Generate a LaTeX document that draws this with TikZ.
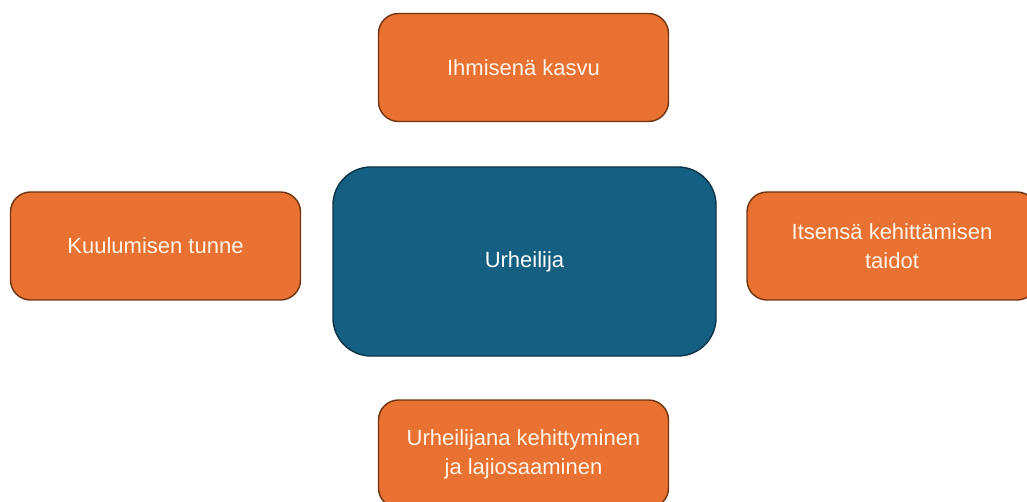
\documentclass[tikz,border=0pt]{standalone}
\usepackage{fontspec}
\setmainfont{Liberation Sans}
\usepackage{tikz}
\usetikzlibrary{positioning}
\definecolor{oranssi}{HTML}{E97132}
\definecolor{oranssireuna}{HTML}{6E3410}
\definecolor{sininen}{HTML}{156082}
\definecolor{sininenreuna}{HTML}{0C3347}
\definecolor{vaalea}{HTML}{FFF4E8}

\begin{document}
\begin{tikzpicture}[x=1pt,y=-1pt,
  osa/.style={draw=oranssireuna,line width=1.4pt,fill=oranssi,rounded corners=20pt,
    minimum width=290pt,minimum height=108pt,align=center,text=vaalea,
    font=\fontsize{22}{29}\selectfont},
  keski/.style={draw=sininenreuna,line width=1.4pt,fill=sininen,rounded corners=38pt,
    minimum width=383pt,minimum height=189pt,text=white,font=\fontsize{22}{29}\selectfont}]
\useasboundingbox (0,0) rectangle (1027,502);
\clip (0,0) rectangle (1027,502);
\node[keski] (urheilija) at (524.5,261.5) {Urheilija};
\node[osa] (kasvu) at (523.5,67.5) {Ihmisenä kasvu};
\node[osa] (kuuluminen) at (155.5,246) {Kuulumisen tunne};
\node[osa] (taidot) at (892,246) {Itsensä kehittämisen\\taidot};
\node[osa] (laji) at (523.5,454) {Urheilijana kehittyminen\\ja lajiosaaminen};
\end{tikzpicture}
\end{document}
